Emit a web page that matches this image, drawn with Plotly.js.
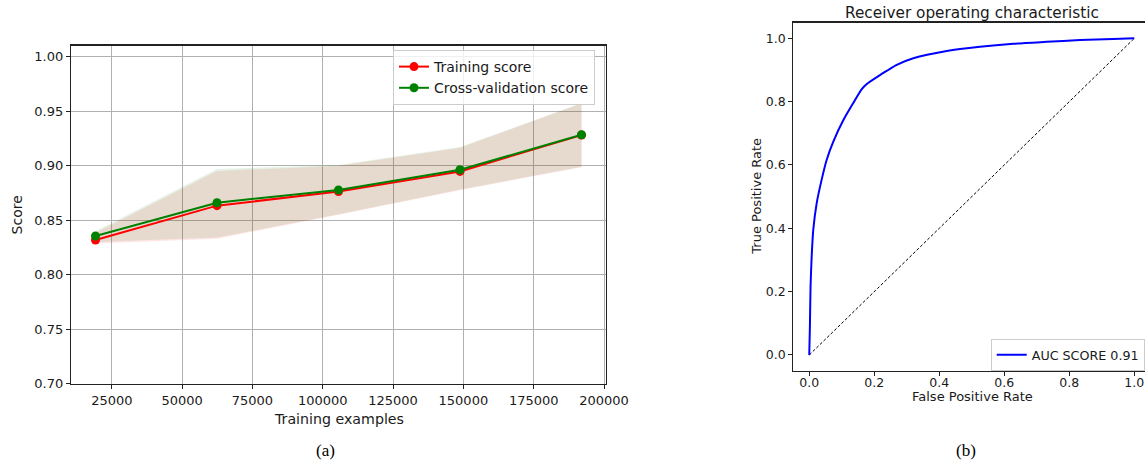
<!DOCTYPE html>
<html>
<head>
<meta charset="utf-8">
<script src="https://cdn.plot.ly/plotly-3.0.1.min.js"></script>
<style>html,body{margin:0;padding:0;background:#fff;}#chart{width:1145px;height:464px;}</style>
</head>
<body>
<div id="chart"></div>
<script>
// ---- Learning curve data (panel a) ----
const trainSizes = [19200, 62400, 105600, 148800, 192000];
const trainScore = [0.8318, 0.8633, 0.8762, 0.8947, 0.9280];
const cvScore    = [0.8355, 0.8660, 0.8777, 0.8962, 0.9283];
const trainLow   = [0.8285, 0.8330, 0.8550, 0.8775, 0.8985];
const trainHigh  = [0.8385, 0.8950, 0.9000, 0.9165, 0.9570];
const cvLow      = [0.8300, 0.8340, 0.8555, 0.8780, 0.8990];
const cvHigh     = [0.8398, 0.8970, 0.9005, 0.9170, 0.9575];
const xTicks = [25000, 50000, 75000, 100000, 125000, 150000, 175000, 200000];
const yTicks = [0.70, 0.75, 0.80, 0.85, 0.90, 0.95, 1.00];

// ---- ROC data (panel b) ----
const fpr = [0, 0.002, 0.004, 0.0074, 0.0123, 0.0228, 0.038, 0.0535, 0.074, 0.105, 0.135, 0.161, 0.177, 0.2175, 0.243, 0.269, 0.32, 0.423, 0.525, 0.628, 0.730, 0.833, 0.935, 1.0];
const tpr = [0, 0.089, 0.216, 0.310, 0.395, 0.479, 0.553, 0.616, 0.674, 0.742, 0.795, 0.839, 0.856, 0.884, 0.900, 0.916, 0.937, 0.960, 0.9735, 0.983, 0.989, 0.9946, 0.998, 1.0];
const diagX = [0, 1];
const diagY = [0, 1];
const rocTicks = [0.0, 0.2, 0.4, 0.6, 0.8, 1.0];

const W = 1145, H = 464;
const px = v => v / W;
const py = v => (H - v) / H;

const txt = '#1a1a1a';
const font = 'DejaVu Sans, sans-serif';

const traces = [
  {x: trainSizes, y: trainLow, mode: 'lines', line: {width: 0, color: 'rgba(0,0,0,0)'}, showlegend: false, hoverinfo: 'skip', xaxis: 'x', yaxis: 'y'},
  {x: trainSizes, y: trainHigh, mode: 'lines', line: {width: 0, color: 'rgba(0,0,0,0)'}, fill: 'tonexty', fillcolor: 'rgba(255,0,0,0.1)', showlegend: false, hoverinfo: 'skip', xaxis: 'x', yaxis: 'y'},
  {x: trainSizes, y: cvLow, mode: 'lines', line: {width: 0, color: 'rgba(0,0,0,0)'}, showlegend: false, hoverinfo: 'skip', xaxis: 'x', yaxis: 'y'},
  {x: trainSizes, y: cvHigh, mode: 'lines', line: {width: 0, color: 'rgba(0,0,0,0)'}, fill: 'tonexty', fillcolor: 'rgba(0,128,0,0.1)', showlegend: false, hoverinfo: 'skip', xaxis: 'x', yaxis: 'y'},
  {x: trainSizes, y: trainScore, name: 'Training score', mode: 'lines+markers', line: {color: '#ff0000', width: 2}, marker: {color: '#ff0000', size: 9}, xaxis: 'x', yaxis: 'y', legend: 'legend'},
  {x: trainSizes, y: cvScore, name: 'Cross-validation score', mode: 'lines+markers', line: {color: '#008000', width: 2}, marker: {color: '#008000', size: 9}, xaxis: 'x', yaxis: 'y', legend: 'legend'},
  {x: diagX, y: diagY, mode: 'lines', line: {color: '#000000', width: 1, dash: '3px,2px'}, showlegend: false, hoverinfo: 'skip', xaxis: 'x2', yaxis: 'y2'},
  {x: fpr, y: tpr, name: 'AUC SCORE 0.91', mode: 'lines', line: {color: '#0000ff', width: 2, shape: 'spline', smoothing: 0.6}, xaxis: 'x2', yaxis: 'y2', legend: 'legend2'}
];

const axisCommon = {
  showline: true, linecolor: '#222', linewidth: 1.3, mirror: true,
  ticks: 'outside', ticklen: 4, tickcolor: '#222', tickwidth: 1,
  zeroline: false, fixedrange: true
};

const layout = {
  width: W, height: H,
  margin: {l: 0, r: 0, t: 0, b: 0},
  paper_bgcolor: '#ffffff', plot_bgcolor: '#ffffff',
  font: {family: font, color: txt, size: 13},
  xaxis: Object.assign({}, axisCommon, {
    domain: [px(71.2), px(605.8)], range: [10560, 200640],
    tickmode: 'array', tickvals: xTicks, ticktext: xTicks.map(v => String(v)),
    showgrid: true, gridcolor: '#b0b0b0', gridwidth: 1,
    tickfont: {size: 13, family: font, color: txt}, anchor: 'y'
  }),
  yaxis: Object.assign({}, axisCommon, {
    domain: [py(383.7), py(45.7)], range: [0.70, 1.01],
    tickmode: 'array', tickvals: yTicks, ticktext: yTicks.map(v => v.toFixed(2)),
    showgrid: true, gridcolor: '#b0b0b0', gridwidth: 1,
    tickfont: {size: 13, family: font, color: txt}, anchor: 'x'
  }),
  xaxis2: Object.assign({}, axisCommon, {
    domain: [px(793), 1], range: [-0.05, (W - 809.3) / 325],
    tickmode: 'array', tickvals: rocTicks, ticktext: rocTicks.map(v => v.toFixed(1)),
    showgrid: false, tickfont: {size: 12.5, family: font, color: txt}, anchor: 'y2',
    ticklen: 3.5, ticklabelstandoff: -4
  }),
  yaxis2: Object.assign({}, axisCommon, {
    domain: [py(370.8), py(22.5)], range: [-0.05, 1.05],
    tickmode: 'array', tickvals: rocTicks, ticktext: rocTicks.map(v => v.toFixed(1)),
    showgrid: false, tickfont: {size: 12.5, family: font, color: txt}, anchor: 'x2',
    ticklen: 3.5
  }),
  legend: {
    x: px(393), y: py(50), xanchor: 'left', yanchor: 'top', traceorder: 'normal',
    bgcolor: 'rgba(255,255,255,0.8)', bordercolor: '#cccccc', borderwidth: 1,
    font: {size: 14, family: font, color: txt}, tracegroupgap: 0
  },
  legend2: {
    x: px(990.7), y: py(339), xanchor: 'left', yanchor: 'top',
    bgcolor: 'rgba(255,255,255,0.8)', bordercolor: '#cccccc', borderwidth: 1,
    font: {size: 12.7, family: font, color: txt}
  },
  annotations: [
    {text: 'Score', x: px(16.7), y: py(214.7), xref: 'paper', yref: 'paper', showarrow: false, textangle: -90, xanchor: 'center', yanchor: 'middle', font: {size: 14, family: font, color: txt}},
    {text: 'Training examples', x: px(338.5), y: py(419), xref: 'paper', yref: 'paper', showarrow: false, xanchor: 'center', yanchor: 'middle', font: {size: 14.2, family: font, color: txt}},
    {text: '(a)', x: px(325), y: py(450), xref: 'paper', yref: 'paper', showarrow: false, xanchor: 'center', yanchor: 'middle', font: {size: 17, family: 'Liberation Serif, serif', color: '#000'}},
    {text: 'Receiver operating characteristic', x: px(971.7), y: py(12.7), xref: 'paper', yref: 'paper', showarrow: false, xanchor: 'center', yanchor: 'middle', font: {size: 15.3, family: font, color: txt}},
    {text: 'True Positive Rate', x: px(757), y: py(196.7), xref: 'paper', yref: 'paper', showarrow: false, textangle: -90, xanchor: 'center', yanchor: 'middle', font: {size: 13, family: font, color: txt}},
    {text: 'False Positive Rate', x: px(972.5), y: py(396.7), xref: 'paper', yref: 'paper', showarrow: false, xanchor: 'center', yanchor: 'middle', font: {size: 13, family: font, color: txt}},
    {text: '(b)', x: px(965.7), y: py(450), xref: 'paper', yref: 'paper', showarrow: false, xanchor: 'center', yanchor: 'middle', font: {size: 17, family: 'Liberation Serif, serif', color: '#000'}}
  ]
};

Plotly.newPlot('chart', traces, layout, {displayModeBar: false, staticPlot: true});
</script>
</body>
</html>
